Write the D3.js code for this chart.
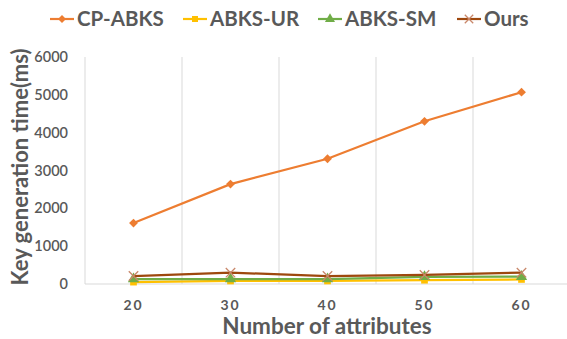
<!DOCTYPE html>
<html><head><meta charset="utf-8">
<script src="https://cdn.jsdelivr.net/npm/d3@7"></script>
<style>body{margin:0;background:#fff}svg{display:block}</style>
</head><body><div id="chart"></div>
<script>
const categories = ["20","30","40","50","60"];
const cpAbks = [1610, 2640, 3310, 4300, 5070];
const abksUr = [50, 80, 80, 100, 120];
const abksSm = [130, 130, 130, 190, 195];
const ours = [210, 300, 210, 240, 300];
const yTicks = [0,1000,2000,3000,4000,5000,6000];
const seriesNames = ["CP-ABKS","ABKS-UR","ABKS-SM","Ours"];

const W=567,H=339;
const svg=d3.select("#chart").append("svg").attr("width",W).attr("height",H);
const x=d3.scaleBand().domain(categories).range([85,570]);
const y=d3.scaleLinear().domain([0,6000]).range([284,57]);
const font="Lato, 'Open Sans', sans-serif";
const grey="#595959";

// vertical gridlines at band boundaries
const bounds=categories.map(c=>x(c)).concat([x.range()[1]]);
svg.append("g").selectAll("line").data(bounds).join("line")
  .attr("x1",d=>d).attr("x2",d=>d).attr("y1",y(6000)).attr("y2",y(0))
  .attr("stroke","#d9d9d9").attr("stroke-width",1);
// baseline
svg.append("line").attr("x1",85).attr("x2",570).attr("y1",y(0)).attr("y2",y(0))
  .attr("stroke","#d9d9d9").attr("stroke-width",1);

// y axis
const ya=svg.append("g").attr("transform","translate(68,0)")
  .call(d3.axisLeft(y).tickValues(yTicks).tickSize(0).tickPadding(0).tickFormat(d3.format("d")));
ya.select(".domain").remove();
ya.selectAll("text").attr("font-family",font).attr("font-size",14.5).attr("font-weight",600).attr("fill",grey);

// x axis
const xa=svg.append("g").attr("transform",`translate(0,${y(0)})`)
  .call(d3.axisBottom(x).tickSize(0).tickPadding(16));
xa.select(".domain").remove();
xa.selectAll("text").attr("font-family",font).attr("font-size",14).attr("font-weight",700)
  .attr("fill",grey).attr("letter-spacing","2px");

// titles
svg.append("text").attr("x",327).attr("y",334).attr("text-anchor","middle")
  .attr("font-family",font).attr("font-size",22.5).attr("font-weight",700).attr("fill",grey)
  .text("Number of attributes");
svg.append("text").attr("transform","translate(28,167) rotate(-90)").attr("text-anchor","middle")
  .attr("font-family",font).attr("font-size",22).attr("font-weight",700).attr("fill",grey)
  .text("Key generation time(ms)");

const cx=c=>x(c)+x.bandwidth()/2;
const series=[
  {name:"CP-ABKS",vals:cpAbks,color:"#ED7D31",mark:"diamond",mcolor:"#ED7D31"},
  {name:"ABKS-UR",vals:abksUr,color:"#FFC000",mark:"square",mcolor:"#FFC000"},
  {name:"ABKS-SM",vals:abksSm,color:"#70AD47",mark:"triangle",mcolor:"#70AD47"},
  {name:"Ours",vals:ours,color:"#9E480E",mark:"x",mcolor:"#C9876A"}
];
const line=d3.line().x((d,i)=>cx(categories[i])).y(d=>y(d));
const symType={diamond:d3.symbolDiamond2,square:d3.symbolSquare,triangle:d3.symbolTriangle,x:d3.symbolTimes};
const symSize={diamond:50,square:45,triangle:55,x:60};
function drawMark(g,s,px,py,scale){
  const sym=d3.symbol().type(symType[s.mark]).size(symSize[s.mark]*(scale||1));
  const p=g.append("path").attr("d",sym()).attr("transform",`translate(${px},${py})`);
  if(s.mark==="x") p.attr("fill","none").attr("stroke",s.mcolor).attr("stroke-width",1.3);
  else p.attr("fill",s.mcolor);
}
series.forEach(s=>{
  const g=svg.append("g");
  g.append("path").datum(s.vals).attr("d",line).attr("fill","none")
    .attr("stroke",s.color).attr("stroke-width",2.2);
  s.vals.forEach((v,i)=>drawMark(g,s,cx(categories[i]),y(v)));
});

// legend
const legX=[50,183,318,457];
series.forEach((s,i)=>{
  const g=svg.append("g");
  g.append("line").attr("x1",legX[i]).attr("x2",legX[i]+24).attr("y1",19).attr("y2",19)
    .attr("stroke",s.color).attr("stroke-width",2.2);
  drawMark(g,s,legX[i]+12,19,0.8);
  g.append("text").attr("x",legX[i]+27).attr("y",26).attr("font-family",font).attr("font-size",20.5)
    .attr("font-weight",700).attr("fill",grey).text(s.name);
});
</script></body></html>
